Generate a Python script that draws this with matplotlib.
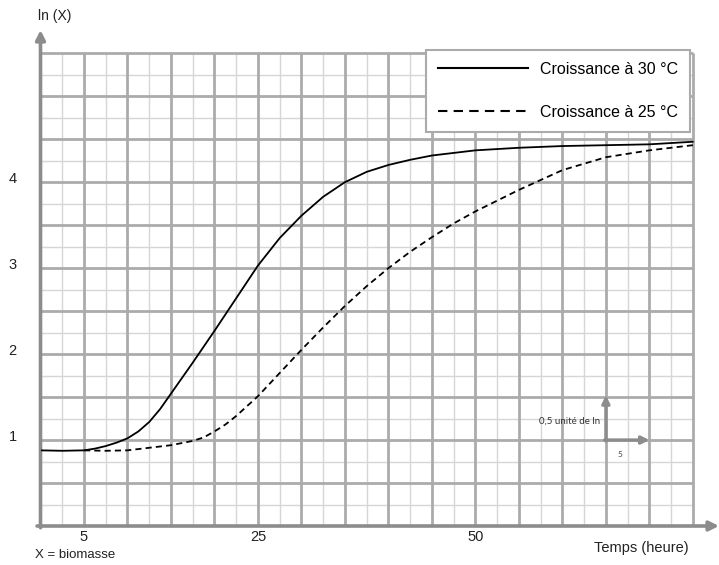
import numpy as np
import matplotlib
matplotlib.use("Agg")
import matplotlib.pyplot as plt
from matplotlib.lines import Line2D

# ---- data ----
t30 = [0, 2.5, 5, 6.25, 7.5, 8.75, 10, 11.25, 12.5, 13.75, 15, 16.25, 17.5, 20,
       22.5, 25, 27.5, 30, 32.5, 35, 37.5, 40, 42.5, 45, 47.5, 50, 55, 60, 65, 70, 75]
y30 = [0.88, 0.875, 0.88, 0.90, 0.93, 0.97, 1.02, 1.10, 1.21, 1.36, 1.54, 1.72, 1.90, 2.27,
       2.65, 3.03, 3.35, 3.61, 3.83, 4.00, 4.12, 4.20, 4.26, 4.31, 4.34, 4.37, 4.40, 4.42,
       4.43, 4.44, 4.47]

t25 = [5, 7.5, 10, 12.5, 15, 17.5, 18.75, 20, 21.25, 22.5, 25, 27.5, 30, 32.5, 35,
       37.5, 40, 42.5, 45, 47.5, 50, 55, 60, 65, 70, 75]
y25 = [0.88, 0.875, 0.88, 0.91, 0.94, 0.99, 1.03, 1.10, 1.18, 1.28, 1.51, 1.78, 2.05,
       2.31, 2.56, 2.79, 3.00, 3.19, 3.36, 3.52, 3.66, 3.91, 4.14, 4.29, 4.37, 4.43]

xtick_vals = [5, 25, 50]
ytick_vals = [1, 2, 3, 4]
label30 = "Croissance à 30 °C"
label25 = "Croissance à 25 °C"

W, H = 719, 565
fig = plt.figure(figsize=(W / 100, H / 100), dpi=100)
plt.rcParams['font.family'] = ['Liberation Sans', 'DejaVu Sans']

x0px, y0px = 40.5, 526.0
xmax, ymax = 78.0, 5.77
ax = fig.add_axes([x0px / W, (H - y0px) / H, 1 - x0px / W, (y0px - 30) / H])
ax.set_xlim(0, xmax)
ax.set_ylim(0, ymax)
for s in ax.spines.values():
    s.set_visible(False)
ax.set_xticks([])
ax.set_yticks([])
ax.patch.set_alpha(0)

gx_max, gy_max = 75, 5.5
minor_c, major_c = '#d6d6d6', '#ababab'
ax.vlines(np.arange(2.5, gx_max, 5), 0, gy_max, color=minor_c, lw=1.0, zorder=1)
ax.hlines(np.arange(0.25, gy_max, 0.5), 0, gx_max, color=minor_c, lw=1.0, zorder=1)
ax.vlines(np.arange(5, gx_max + 0.1, 5), 0, gy_max, color=major_c, lw=2.0, zorder=2)
ax.hlines(np.arange(0.5, gy_max + 0.01, 0.5), 0, gx_max, color=major_c, lw=2.0, zorder=2)

# axes arrows
axis_c = '#8c8c8c'
ax.annotate('', xy=(xmax, 0), xytext=(-0.4, 0),
            arrowprops=dict(arrowstyle='-|>', color=axis_c, lw=2.6, mutation_scale=14,
                            shrinkA=0, shrinkB=0), annotation_clip=False, zorder=3)
ax.annotate('', xy=(0, ymax), xytext=(0, -0.02),
            arrowprops=dict(arrowstyle='-|>', color=axis_c, lw=2.6, mutation_scale=14,
                            shrinkA=0, shrinkB=0), annotation_clip=False, zorder=3)

# scale indicator
ax.annotate('', xy=(65, 1.52), xytext=(65, 0.99),
            arrowprops=dict(arrowstyle='-|>', color=axis_c, lw=2.4, mutation_scale=11,
                            shrinkA=0, shrinkB=0), zorder=3)
ax.annotate('', xy=(70, 1.0), xytext=(64.85, 1.0),
            arrowprops=dict(arrowstyle='-|>', color=axis_c, lw=2.4, mutation_scale=11,
                            shrinkA=0, shrinkB=0), zorder=3)
ax.text(64.3, 1.22, "0,5 unité de ln", ha='right', va='center', fontsize=7,
        family=['Lato', 'DejaVu Sans'], color='#333333', zorder=4)
ax.text(66.6, 0.83, "5", ha='center', va='center', fontsize=6,
        family=['Lato', 'DejaVu Sans'], color='#444444', zorder=4)

# curves
ax.plot(t30, y30, color='black', lw=1.3, zorder=5, solid_joinstyle='round',
        solid_capstyle='round')
ax.plot(t25, y25, color='black', lw=1.3, dashes=(3.4, 2.3), zorder=5)

# tick labels
for v in xtick_vals:
    ax.text(v, -0.13, str(v), ha='center', va='center', fontsize=10.5, color='#222222')
for v in ytick_vals:
    ax.text(-3.2, v + 0.04, str(v), ha='center', va='center', fontsize=10.5, color='#222222')

fig.text(55 / W, 1 - 16 / H, "ln (X)", ha='center', va='center', fontsize=10, color='#222222')
fig.text(35 / W, 1 - 555 / H, "X = biomasse", ha='left', va='center', fontsize=9.5, color='#222222')
fig.text(689 / W, 1 - 548 / H, "Temps (heure)", ha='right', va='center', fontsize=10.5, color='#222222')

# legend
h30 = Line2D([], [], color='black', lw=1.5)
h25 = Line2D([], [], color='black', lw=1.5, dashes=(4.5, 3.0))
leg = ax.legend([h30, h25], [label30, label25], loc='upper right',
                bbox_to_anchor=(690 / W, 1 - 50 / H), bbox_transform=fig.transFigure,
                fontsize=11.5, frameon=True, fancybox=False, framealpha=1,
                edgecolor=major_c, handlelength=5.6, handletextpad=0.75,
                labelspacing=1.75, borderpad=0.75, borderaxespad=0)
leg.get_frame().set_linewidth(1.5)
leg.set_zorder(6)

fig.savefig('out.png', dpi=100)
